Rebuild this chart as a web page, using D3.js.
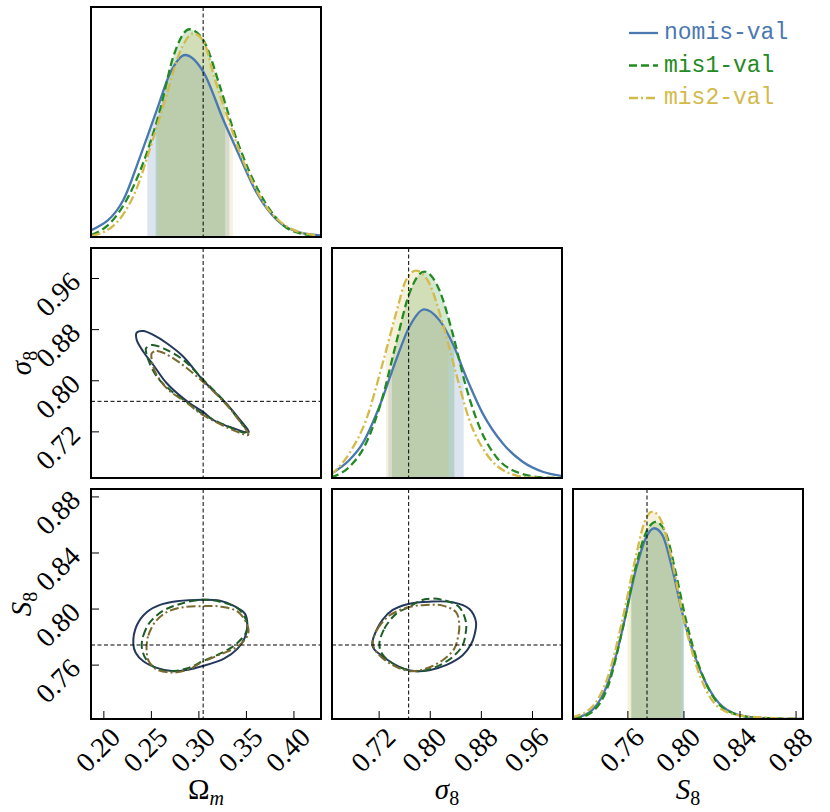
<!DOCTYPE html>
<html>
<head>
<meta charset="utf-8">
<script src="https://cdn.jsdelivr.net/npm/d3@7"></script>
<style>
  body { margin: 0; background: #fff; }
  svg { display: block; }
</style>
</head>
<body>
<div id="chart"></div>
<script>
// ---- data ----
const names = ['nomis-val', 'mis1-val', 'mis2-val'];

const omDomain = [0.187, 0.429];
const sigDomain = [0.647, 1.007];
const s8Domain = [0.7212, 0.8853];
const truth = [0.305, 0.767, 0.774];

const omTicks = [0.20, 0.25, 0.30, 0.35, 0.40];
const sigTicks = [0.72, 0.80, 0.88, 0.96];
const s8Ticks = [0.76, 0.80, 0.84, 0.88];

// 1D marginals: [value, density] (peak of tallest curve ~ 1)
const omNomis = [[0.1877,0.034],[0.2210,0.178],[0.2386,0.386],[0.2562,0.611],[0.2702,0.788],[0.2860,0.876],[0.3052,0.795],[0.3263,0.563],[0.3404,0.419],[0.3614,0.212],[0.3825,0.082],[0.4035,0.026],[0.4280,0.008]];
const omMis1 = [[0.1877,0.010],[0.2070,0.066],[0.2281,0.210],[0.2456,0.403],[0.2596,0.611],[0.2736,0.868],[0.2905,1.0],[0.3052,0.948],[0.3228,0.723],[0.3368,0.515],[0.3544,0.307],[0.3754,0.130],[0.3965,0.034],[0.4235,0.005]];
const omMis2 = [[0.1877,0.005],[0.2133,0.066],[0.2344,0.226],[0.2519,0.467],[0.2660,0.675],[0.2800,0.884],[0.2947,0.980],[0.3052,0.945],[0.3165,0.771],[0.3305,0.579],[0.3481,0.355],[0.3691,0.162],[0.3933,0.050],[0.4235,0.008]];

const sigNomis = [[0.6471,0.023],[0.6742,0.087],[0.6950,0.167],[0.7211,0.343],[0.7473,0.568],[0.7681,0.728],[0.7915,0.812],[0.8150,0.760],[0.8358,0.648],[0.8568,0.487],[0.8828,0.311],[0.9141,0.167],[0.9454,0.078],[0.9767,0.030],[1.0055,0.010]];
const sigMis1 = [[0.6455,0.003],[0.6742,0.054],[0.7003,0.167],[0.7263,0.391],[0.7473,0.648],[0.7681,0.889],[0.7915,0.993],[0.8150,0.905],[0.8358,0.696],[0.8568,0.439],[0.8776,0.247],[0.9037,0.103],[0.9350,0.030],[0.9767,0.003],[1.007,0]];
const sigMis2 = [[0.6455,0.014],[0.6742,0.119],[0.7003,0.279],[0.7263,0.552],[0.7473,0.793],[0.7629,0.953],[0.7785,0.998],[0.7993,0.937],[0.8202,0.744],[0.8411,0.504],[0.8620,0.279],[0.8881,0.119],[0.9194,0.030],[0.9558,0.003],[1.007,0]];

const s8Nomis = [[0.7218,0.003],[0.7349,0.043],[0.7469,0.188],[0.7564,0.428],[0.7660,0.717],[0.7731,0.870],[0.7791,0.918],[0.7850,0.885],[0.7922,0.717],[0.7993,0.508],[0.8065,0.332],[0.8161,0.172],[0.8280,0.059],[0.8447,0.011],[0.8662,0.001],[0.885,0]];
const s8Mis1 = [[0.7218,0],[0.7349,0.035],[0.7469,0.172],[0.7564,0.428],[0.7660,0.733],[0.7731,0.894],[0.7803,0.949],[0.7875,0.894],[0.7946,0.701],[0.8018,0.476],[0.8089,0.300],[0.8184,0.140],[0.8304,0.043],[0.8494,0.008],[0.885,0]];
const s8Mis2 = [[0.7206,0.008],[0.7349,0.059],[0.7469,0.220],[0.7564,0.476],[0.7660,0.781],[0.7719,0.942],[0.7779,0.998],[0.7839,0.958],[0.7922,0.749],[0.7993,0.508],[0.8065,0.316],[0.8161,0.140],[0.8280,0.043],[0.8447,0.013],[0.885,0]];

// 68% intervals [low, high]
const omBands = [[0.2463,0.3326],[0.2551,0.3281],[0.2570,0.3362]];
const sigBands = [[0.7352,0.8530],[0.7410,0.8385],[0.7316,0.8291]];
const s8Bands = [[0.7630,0.8005],[0.7624,0.8000],[0.7600,0.7982]];

// 2D contours: [x, y]
const omSigNomis = [[0.2351,0.8745],[0.2421,0.8771],[0.2526,0.8709],[0.2667,0.8579],[0.2842,0.8369],[0.3046,0.8004],[0.3281,0.7655],[0.3438,0.7378],[0.3530,0.7188],[0.3368,0.7248],[0.3157,0.7378],[0.3046,0.7508],[0.2894,0.7655],[0.2667,0.7953],[0.2526,0.8239],[0.2421,0.8447],[0.2351,0.8630]];
const omSigMis1 = [[0.2449,0.8500],[0.2509,0.8552],[0.2631,0.8500],[0.2842,0.8317],[0.3046,0.8015],[0.3281,0.7655],[0.3438,0.7352],[0.3509,0.7211],[0.3491,0.7180],[0.3333,0.7264],[0.3046,0.7472],[0.2894,0.7640],[0.2702,0.7848],[0.2562,0.8056],[0.2473,0.8317],[0.2449,0.8447]];
const omSigMis2 = [[0.2509,0.8422],[0.2562,0.8458],[0.2736,0.8344],[0.3046,0.7978],[0.3281,0.7640],[0.3438,0.7352],[0.3526,0.7144],[0.3404,0.7195],[0.3046,0.7457],[0.2894,0.7629],[0.2667,0.7874],[0.2544,0.8134],[0.2509,0.8317]];

const omS8Nomis = [[0.2315,0.7750],[0.2351,0.7879],[0.2456,0.7974],[0.2596,0.8026],[0.2772,0.8052],[0.3046,0.8063],[0.3228,0.8056],[0.3368,0.8021],[0.3491,0.7962],[0.3515,0.7879],[0.3490,0.7795],[0.3410,0.7712],[0.3270,0.7643],[0.3046,0.7590],[0.2877,0.7562],[0.2736,0.7553],[0.2562,0.7577],[0.2421,0.7624],[0.2340,0.7685]];
const omS8Mis1 = [[0.2404,0.7744],[0.2421,0.7808],[0.2491,0.7903],[0.2631,0.7985],[0.2807,0.8033],[0.3046,0.8063],[0.3228,0.8049],[0.3421,0.7997],[0.3509,0.7903],[0.3502,0.7832],[0.3421,0.7761],[0.3298,0.7702],[0.3046,0.7624],[0.2877,0.7572],[0.2702,0.7553],[0.2562,0.7572],[0.2456,0.7631],[0.2414,0.7691]];
const omS8Mis2 = [[0.2456,0.7744],[0.2473,0.7808],[0.2544,0.7903],[0.2667,0.7974],[0.2842,0.8010],[0.3046,0.8017],[0.3228,0.8014],[0.3421,0.7974],[0.3526,0.7856],[0.3509,0.7797],[0.3404,0.7726],[0.3228,0.7672],[0.3046,0.7620],[0.2877,0.7560],[0.2702,0.7544],[0.2544,0.7572],[0.2473,0.7631],[0.2456,0.7691]];

const sigS8Nomis = [[0.7100,0.7752],[0.7160,0.7840],[0.7260,0.7920],[0.7420,0.7990],[0.7665,0.8033],[0.7994,0.8049],[0.8359,0.8045],[0.8620,0.7997],[0.8724,0.7903],[0.8698,0.7808],[0.8646,0.7745],[0.8515,0.7667],[0.8254,0.7596],[0.7994,0.7560],[0.7785,0.7553],[0.7600,0.7570],[0.7400,0.7615],[0.7230,0.7670],[0.7130,0.7710]];
const sigS8Mis1 = [[0.7211,0.7745],[0.7289,0.7856],[0.7472,0.7962],[0.7665,0.8009],[0.7941,0.8068],[0.8254,0.8056],[0.8463,0.8009],[0.8567,0.7903],[0.8557,0.7808],[0.8515,0.7738],[0.8359,0.7655],[0.8098,0.7584],[0.7837,0.7553],[0.7665,0.7560],[0.7420,0.7608],[0.7263,0.7671]];
const sigS8Mis2 = [[0.7107,0.7761],[0.7185,0.7856],[0.7368,0.7950],[0.7665,0.8009],[0.7941,0.8026],[0.8202,0.8021],[0.8411,0.7974],[0.8463,0.7879],[0.8437,0.7785],[0.8385,0.7714],[0.8202,0.7631],[0.7941,0.7572],[0.7700,0.7553],[0.7420,0.7596],[0.7211,0.7667],[0.7133,0.7714]];

// ---- styles ----
const lineColors = ['#4a78b0', '#228b22', '#d4ba4a'];
const contourColors = ['#24385c', '#1d5e26', '#7a6a2e'];
const dashes = [null, '8,4', '9,3,2,3'];

const W = 830, H = 812;
const size = 230, step = 241, ox = 91, oy = 7;
const yMaxDiag = 1.107;
const serif = '"Liberation Serif", "DejaVu Serif", serif';

const domains = [omDomain, sigDomain, s8Domain];
const tickSets = [omTicks, sigTicks, s8Ticks];
const marginals = [[omNomis, omMis1, omMis2], [sigNomis, sigMis1, sigMis2], [s8Nomis, s8Mis1, s8Mis2]];
const bands = [omBands, sigBands, s8Bands];
const contours = {
    '1-0': [omSigNomis, omSigMis1, omSigMis2],
    '2-0': [omS8Nomis, omS8Mis1, omS8Mis2],
    '2-1': [sigS8Nomis, sigS8Mis1, sigS8Mis2]
};

const svg = d3.select('#chart').append('svg')
    .attr('width', W).attr('height', H);
const defs = svg.append('defs');
const fmt = d3.format('.2f');

for (let r = 0; r < 3; r++) {
    for (let c = 0; c <= r; c++) {
        const id = `p${r}${c}`;
        const g = svg.append('g')
            .attr('transform', `translate(${ox + c * step},${oy + r * step})`);

        defs.append('clipPath').attr('id', id + 'clip')
            .append('rect').attr('width', size).attr('height', size);

        const x = d3.scaleLinear().domain(domains[c]).range([0, size]);
        const inner = g.append('g').attr('clip-path', `url(#${id}clip)`);

        if (r === c) {
            const y = d3.scaleLinear().domain([0, yMaxDiag]).range([size, 0]);
            const area = d3.area().curve(d3.curveMonotoneX)
                .x(d => x(d[0])).y0(size).y1(d => y(d[1]));
            const line = d3.line().curve(d3.curveMonotoneX)
                .x(d => x(d[0])).y(d => y(d[1]));

            // shaded 68% regions
            marginals[c].forEach((pts, i) => {
                const b = bands[c][i];
                defs.append('clipPath').attr('id', `${id}band${i}`)
                    .append('rect')
                    .attr('x', x(b[0])).attr('width', x(b[1]) - x(b[0]))
                    .attr('y', 0).attr('height', size);
                inner.append('path')
                    .attr('d', area(pts))
                    .attr('clip-path', `url(#${id}band${i})`)
                    .attr('fill', lineColors[i])
                    .attr('fill-opacity', 0.2);
            });
            marginals[c].forEach((pts, i) => {
                inner.append('path')
                    .attr('d', line(pts))
                    .attr('fill', 'none')
                    .attr('stroke', lineColors[i])
                    .attr('stroke-width', 2.3)
                    .attr('stroke-dasharray', dashes[i]);
            });
        } else {
            const y = d3.scaleLinear().domain(domains[r]).range([size, 0]);
            const line = d3.line().curve(d3.curveCatmullRomClosed.alpha(0.5))
                .x(d => x(d[0])).y(d => y(d[1]));
            contours[`${r}-${c}`].forEach((pts, i) => {
                inner.append('path')
                    .attr('d', line(pts))
                    .attr('fill', 'none')
                    .attr('stroke', contourColors[i])
                    .attr('stroke-width', 2)
                    .attr('stroke-dasharray', dashes[i]);
            });
            inner.append('line')
                .attr('x1', 0).attr('x2', size)
                .attr('y1', y(truth[r])).attr('y2', y(truth[r]))
                .attr('stroke', '#000').attr('stroke-width', 1)
                .attr('stroke-dasharray', '4,2.5');
        }

        inner.append('line')
            .attr('x1', x(truth[c])).attr('x2', x(truth[c]))
            .attr('y1', 0).attr('y2', size)
            .attr('stroke', '#000').attr('stroke-width', 1)
            .attr('stroke-dasharray', '4,2.5');

        // axes
        if (r === 2) {
            const ax = g.append('g')
                .attr('transform', `translate(0,${size})`)
                .call(d3.axisBottom(x).tickValues(tickSets[c])
                    .tickSizeInner(-8).tickSizeOuter(0).tickFormat(fmt));
            ax.select('.domain').remove();
            ax.attr('font-family', serif).attr('font-size', 28);
            ax.selectAll('text')
                .attr('x', 0).attr('y', 0).attr('dy', null)
                .attr('fill', '#000')
                .attr('text-anchor', 'end')
                .attr('transform', 'translate(18,20) rotate(-45)');
        }
        if (c === 0 && r > 0) {
            const yA = d3.scaleLinear().domain(domains[r]).range([size, 0]);
            const ay = g.append('g')
                .call(d3.axisLeft(yA).tickValues(tickSets[r])
                    .tickSizeInner(-8).tickSizeOuter(0).tickFormat(fmt));
            ay.select('.domain').remove();
            ay.attr('font-family', serif).attr('font-size', 28);
            ay.selectAll('text')
                .attr('x', 0).attr('y', 0).attr('dy', null)
                .attr('fill', '#000')
                .attr('text-anchor', 'end')
                .attr('transform', 'translate(-9,5) rotate(-45)');
        }

        g.append('rect')
            .attr('width', size).attr('height', size)
            .attr('fill', 'none')
            .attr('stroke', '#000').attr('stroke-width', 2);
    }
}

// axis titles
const labels = [
    { main: 'Ω', sub: 'm', italicMain: false, italicSub: true },
    { main: 'σ', sub: '8', italicMain: true, italicSub: false },
    { main: 'S', sub: '8', italicMain: true, italicSub: false }
];

function addLabel(sel, lab) {
    sel.append('tspan')
        .attr('font-style', lab.italicMain ? 'italic' : 'normal')
        .text(lab.main);
    sel.append('tspan')
        .attr('font-size', 20)
        .attr('dy', 6)
        .attr('font-style', lab.italicSub ? 'italic' : 'normal')
        .text(lab.sub);
}

labels.forEach((lab, i) => {
    const t = svg.append('text')
        .attr('x', ox + i * step + size / 2)
        .attr('y', 799)
        .attr('text-anchor', 'middle')
        .attr('font-family', serif)
        .attr('font-size', 29);
    addLabel(t, lab);
});

[1, 2].forEach(r => {
    const cy = oy + r * step + size / 2;
    const t = svg.append('text')
        .attr('transform', `translate(31,${cy}) rotate(-90)`)
        .attr('text-anchor', 'middle')
        .attr('font-family', serif)
        .attr('font-size', 29);
    addLabel(t, labels[r]);
});

// legend
const legend = svg.append('g');
const rowsY = [33, 65.5, 98];
names.forEach((n, i) => {
    legend.append('line')
        .attr('x1', 629).attr('x2', 658)
        .attr('y1', rowsY[i]).attr('y2', rowsY[i])
        .attr('stroke', lineColors[i])
        .attr('stroke-width', 2.3)
        .attr('stroke-dasharray', dashes[i]);
    legend.append('text')
        .attr('x', 664).attr('y', rowsY[i])
        .attr('dominant-baseline', 'central')
        .attr('font-family', '"Liberation Mono", "DejaVu Sans Mono", monospace')
        .attr('font-size', 23)
        .attr('fill', lineColors[i])
        .text(n);
});
</script>
</body>
</html>
